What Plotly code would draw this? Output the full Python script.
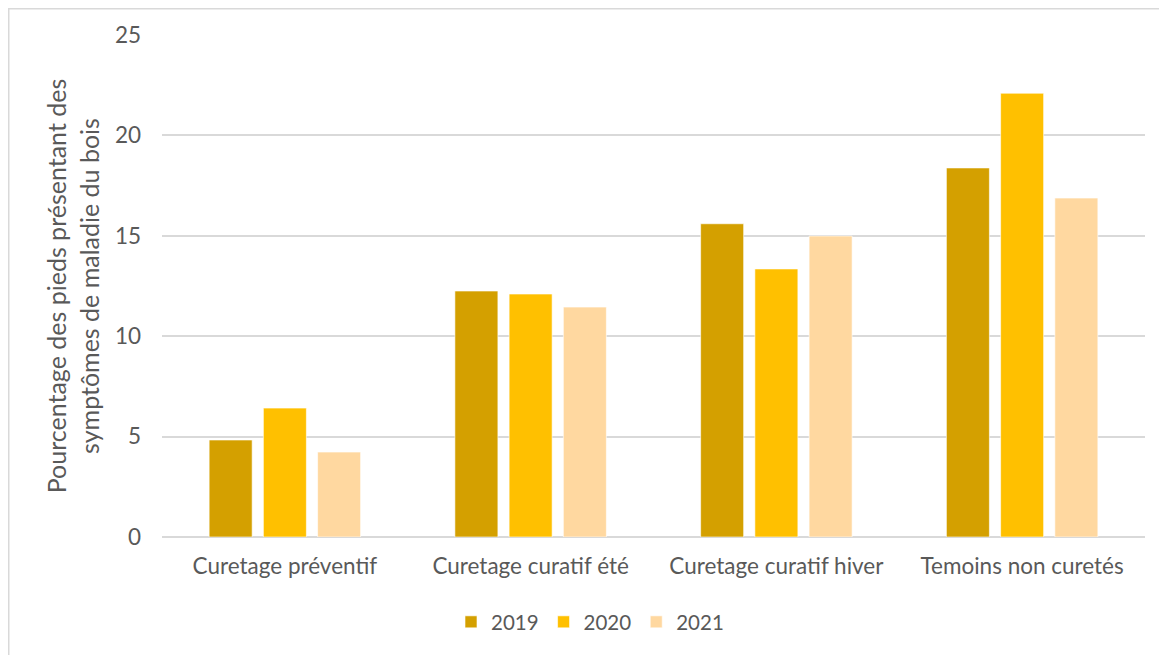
import plotly.graph_objects as go

categories = ["Curetage préventif", "Curetage curatif été", "Curetage curatif hiver", "Temoins non curetés"]
years = ["2019", "2020", "2021"]
values_2019 = [4.83, 12.25, 15.6, 18.38]
values_2020 = [6.42, 12.1, 13.35, 22.1]
values_2021 = [4.23, 11.45, 14.99, 16.88]
colors = ["#D4A000", "#FFC000", "#FFD8A0"]
tick_vals = [0, 5, 10, 15, 20, 25]

series = [values_2019, values_2020, values_2021]

fig = go.Figure()
for name, vals, col in zip(years, series, colors):
    fig.add_trace(go.Bar(
        x=categories, y=vals, name=name,
        marker=dict(color=col, line=dict(color="rgba(255,255,255,0.6)", width=1)),
    ))

# page body has an 8px margin; work in figure coordinates (screen - 8)
W, H = 1167, 655
OFF = 8
L, T = 162 - OFF, 35 - OFF
Rx, By = 1145 - OFF, 537 - OFF
R, B = W - Rx, H - By
pw, ph = Rx - L, By - T

def px_x(x):
    return (x - OFF - L) / pw

def px_y(y):
    return (By - (y - OFF)) / ph

font = "Lato, 'Open Sans', sans-serif"
fig.update_layout(
    width=W, height=H,
    margin=dict(l=L, r=R, t=T, b=B),
    paper_bgcolor="white", plot_bgcolor="white",
    barmode="group", bargap=0.338, bargroupgap=0.207,
    font=dict(family=font, size=22, color="#595959"),
    xaxis=dict(showgrid=False, showline=False, ticks="", ticklabelstandoff=13,
               tickfont=dict(size=22.5, color="#595959")),
    yaxis=dict(range=[0, 25], tickvals=tick_vals, showgrid=True, gridcolor="#D9D9D9", gridwidth=1.5,
               zeroline=True, zerolinecolor="#D9D9D9", zerolinewidth=1.5,
               ticks="", ticklen=0, ticklabelstandoff=20, tickfont=dict(size=22.5, color="#595959"),
               title=dict(text="Pourcentage des pieds présentant des<br>symptômes de maladie du bois",
                          font=dict(size=25, color="#595959"), standoff=8)),
    legend=dict(orientation="h", x=px_x(590), xanchor="center", y=px_y(622), yanchor="middle",
                font=dict(size=20.5, color="#595959"), itemwidth=30, traceorder="normal"),
    shapes=[dict(type="rect", xref="paper", yref="paper",
                 x0=px_x(8.75), x1=px_x(1190), y0=px_y(680), y1=px_y(8.75),
                 line=dict(color="#D9D9D9", width=1.5), fillcolor="rgba(0,0,0,0)", layer="below")],
)

fig.write_html("out.html")
